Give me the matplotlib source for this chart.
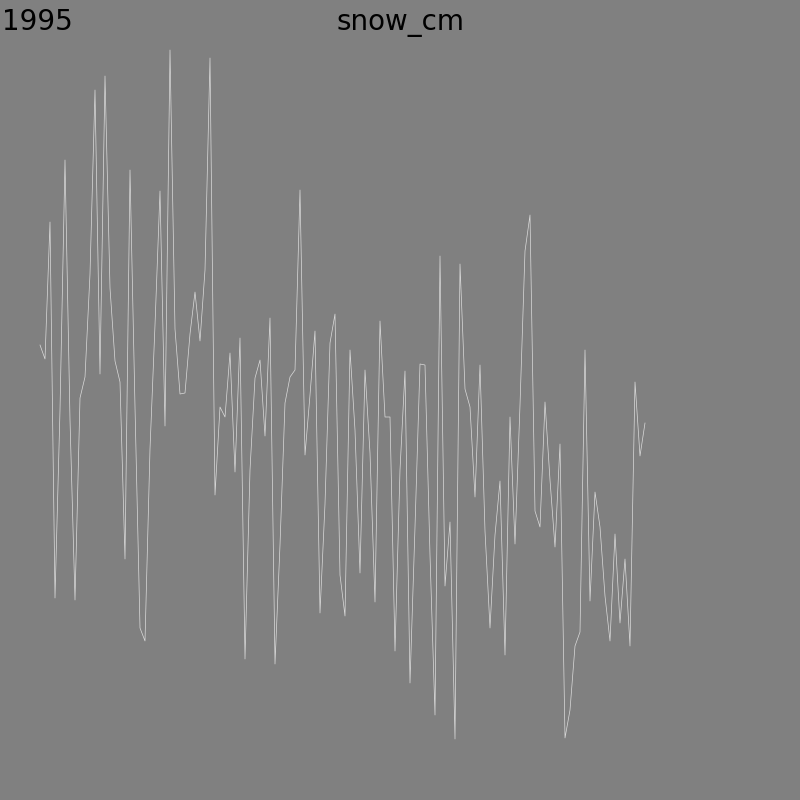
import matplotlib
matplotlib.use("Agg")
import matplotlib.pyplot as plt
import numpy as np

year = "1995"
title = "snow_cm"

# daily snow depth (cm)
snow_cm = [
    45.5, 44.1, 57.8, 20.2, 39.0, 64.0, 38.0, 20.0, 40.2, 42.3,
    52.6, 71.0, 42.6, 72.4, 51.2, 43.9, 41.8, 24.1, 63.0, 39.3,
    17.2, 15.9, 35.1, 47.5, 60.9, 37.4, 75.0, 47.1, 40.6, 40.7,
    46.6, 50.8, 45.9, 53.0, 74.2, 30.5, 39.3, 38.3, 44.7, 32.8,
    46.2, 14.1, 33.0, 42.2, 44.0, 36.4, 48.2, 13.6, 25.5, 39.7,
    42.3, 43.0, 61.0, 34.5, 40.5, 46.9, 18.7, 29.6, 45.7, 48.6,
    22.5, 18.4, 45.0, 37.0, 22.7, 43.0, 34.7, 19.8, 47.9, 38.3,
    38.3, 14.9, 33.0, 42.9, 11.7, 27.3, 43.6, 43.5, 24.5, 8.5,
    54.4, 21.4, 27.8, 6.1, 53.6, 41.1, 39.3, 30.3, 43.5, 26.9,
    17.2, 26.5, 31.9, 14.5, 38.3, 25.6, 39.5, 54.9, 58.5, 28.9,
    27.3, 39.8, 32.0, 25.3, 35.6, 6.2, 9.0, 15.4, 16.8, 45.0,
    19.9, 30.8, 27.3, 20.4, 15.9, 26.6, 17.7, 24.1, 15.4, 41.8,
    34.4, 37.7,
]

days = np.arange(len(snow_cm))

fig = plt.figure(figsize=(8, 8), dpi=100, facecolor="#808080")
ax = fig.add_axes([0, 0, 1, 1])
ax.set_facecolor("#808080")
ax.plot(days, snow_cm, color="#dcdcdc", lw=0.5)
ax.set_xlim(-8, 152)
ax.set_ylim(0, 80)
ax.axis("off")

fig.text(0.003, 0.962, year, fontsize=20, color="black", ha="left", va="baseline")
fig.text(0.5, 0.962, title, fontsize=20, color="black", ha="center", va="baseline")

fig.savefig("out.png", dpi=100, facecolor=fig.get_facecolor())
